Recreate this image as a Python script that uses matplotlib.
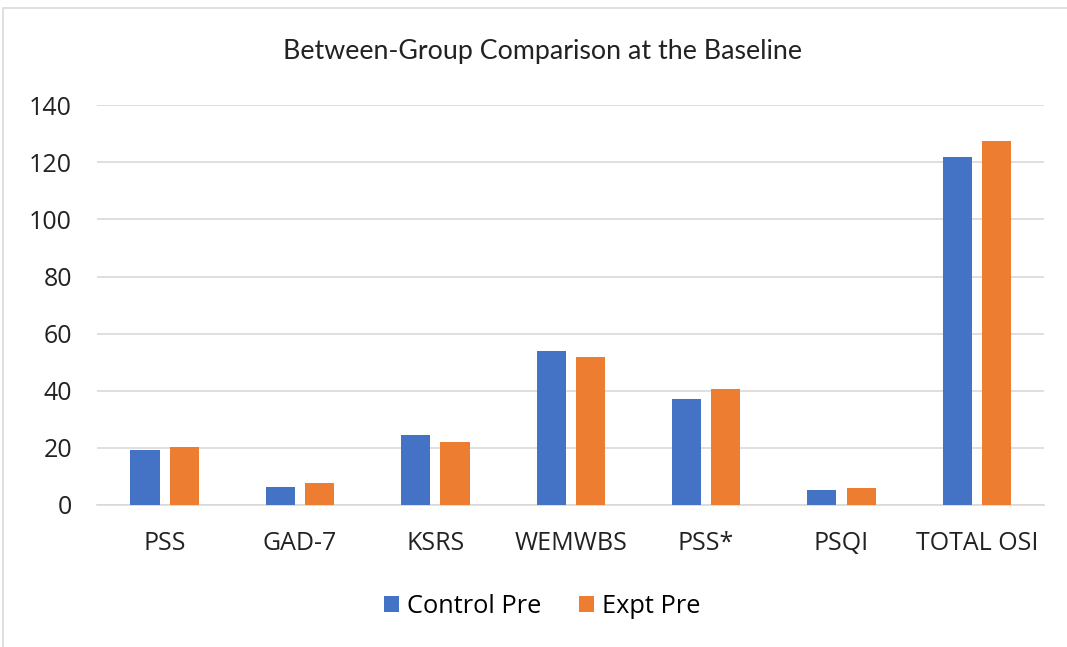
import numpy as np
import matplotlib.pyplot as plt
from matplotlib.patches import Rectangle

categories = ["PSS", "GAD-7", "KSRS", "WEMWBS", "PSS*", "PSQI", "TOTAL OSI"]
control_pre = [19.3, 6.4, 24.4, 54.0, 37.1, 5.3, 121.8]
expt_pre = [20.4, 7.6, 22.1, 51.7, 40.5, 5.8, 127.4]

blue = "#4472C4"
orange = "#ED7D31"

plt.rcParams['font.family'] = ['Open Sans', 'DejaVu Sans']

fig = plt.figure(figsize=(10.67, 6.47), dpi=100)
# chart border
fig.patches.append(Rectangle((0.003, -0.01), 1.2, 0.997, transform=fig.transFigure,
                             fill=False, edgecolor="#d9d9d9", linewidth=1.2))

ax = fig.add_axes([0.0909, 0.2195, 0.888, 0.618])
x = np.arange(len(categories))
w = 0.215
ax.bar(x - 0.145, control_pre, w, color=blue, label="Control Pre", zorder=3)
ax.bar(x + 0.145, expt_pre, w, color=orange, label="Expt Pre", zorder=3)

ax.set_xlim(-0.5, len(categories) - 0.5)
ax.set_ylim(0, 140)
ax.set_yticks(np.arange(0, 141, 20))
ax.yaxis.grid(True, color="#d9d9d9", linewidth=1.2, zorder=0)
ax.set_xticks(x)
ax.set_xticklabels(categories)
for s in ["top", "right", "left"]:
    ax.spines[s].set_visible(False)
ax.spines["bottom"].set_color("#d9d9d9")
ax.spines["bottom"].set_linewidth(1.2)
ax.tick_params(axis="both", length=0, labelsize=18, colors="#222222")
ax.tick_params(axis="y", pad=18)
ax.tick_params(axis="x", pad=19)

fig.text(0.508, 0.92, "Between-Group Comparison at the Baseline", ha="center", va="center",
         fontsize=19.3, color="#222222", family=['Lato', 'DejaVu Sans'])

fig.legend(loc="center", bbox_to_anchor=(0.508, 0.062), ncol=2, frameon=False, fontsize=18.3,
           handlelength=0.6, handleheight=0.6, handletextpad=0.3, columnspacing=1.5)

fig.savefig("out.png", dpi=100)
